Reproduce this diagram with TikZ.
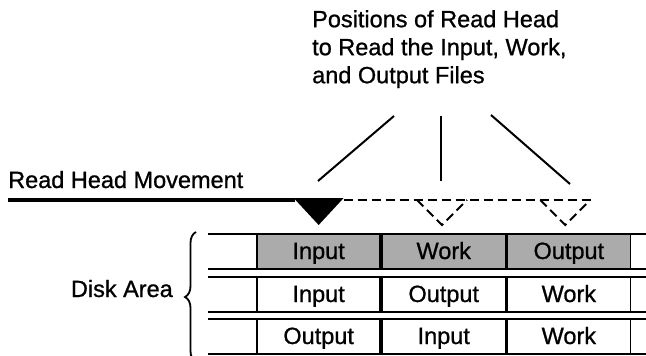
\documentclass[tikz,border=0pt]{standalone}
\usepackage{fontspec}
\setmainfont{Liberation Sans}[FakeBold=0.9]
\usetikzlibrary{positioning,decorations.pathreplacing}

\tikzset{
  texte/.style={inner sep=0pt, font=\fontsize{23.5}{28}\selectfont},
  cellule/.style={draw, line width=1.8pt, minimum width=123.3pt, minimum height=35pt, inner sep=0pt, text height=16pt, text depth=0pt, font=\fontsize{23.5}{28}\selectfont},
  active/.style={cellule, fill=black!33},
  pointille/.style={line width=2pt, dash pattern=on 9pt off 5pt},
  trait/.style={line width=2pt}
}

\begin{document}
\begin{tikzpicture}[x=1pt,y=-1pt]
  \useasboundingbox (0,0) rectangle (646,356);

  % textes
  \node[texte, anchor=north west, align=left] (titre) at (312,10)
    {Positions of Read Head\\to Read the Input, Work,\\and Output Files};
  \node[texte, anchor=base west] (mouvement) at (8,188) {Read Head Movement};
  \node[texte, anchor=base east] (disque) at (173,297) {Disk Area};

  % cellules du disque
  \foreach \r/\y/\a/\b/\c/\s in {1/251/Input/Work/Output/active,
                                 2/294/Input/Output/Work/cellule,
                                 3/336/Output/Input/Work/cellule}
  {
    \node[\s] (r\r c1) at (318.65,\y) {\a};
    \node[\s, right=0pt of r\r c1] (r\r c2) {\b};
    \node[\s, right=0pt of r\r c2] (r\r c3) {\c};
    \draw[trait] (208,\y-17.5) -- (646,\y-17.5);
    \draw[trait] (208,\y+17.5) -- (646,\y+17.5);
  }

  % accolade
  \draw[line width=1.8pt, decorate, decoration={brace, amplitude=11pt}]
    (196,362) -- (196,232);

  % tete de lecture
  \coordinate (t1) at (318.65,225);
  \coordinate (t2) at (442,225);
  \coordinate (t3) at (565.3,225);
  \draw[line width=4pt] (8,200) -- (294.65,200);
  \fill (293.65,198) -- (343.65,198) -- (t1) -- cycle;
  \draw[pointille] (343.65,200) -- (591.3,200);
  \draw[pointille] (417,200) -- (t2) -- (467,200);
  \draw[pointille] (540.3,200) -- (t3) -- (590.3,200);

  % traits vers les positions
  \coordinate (p1) at (394,116);
  \coordinate (p2) at (441,116);
  \coordinate (p3) at (491,115);
  \coordinate (q1) at (318,181);
  \coordinate (q2) at (441,181);
  \coordinate (q3) at (570,184);
  \draw[trait] (p1) -- (q1);
  \draw[trait] (p2) -- (q2);
  \draw[trait] (p3) -- (q3);
\end{tikzpicture}
\end{document}
